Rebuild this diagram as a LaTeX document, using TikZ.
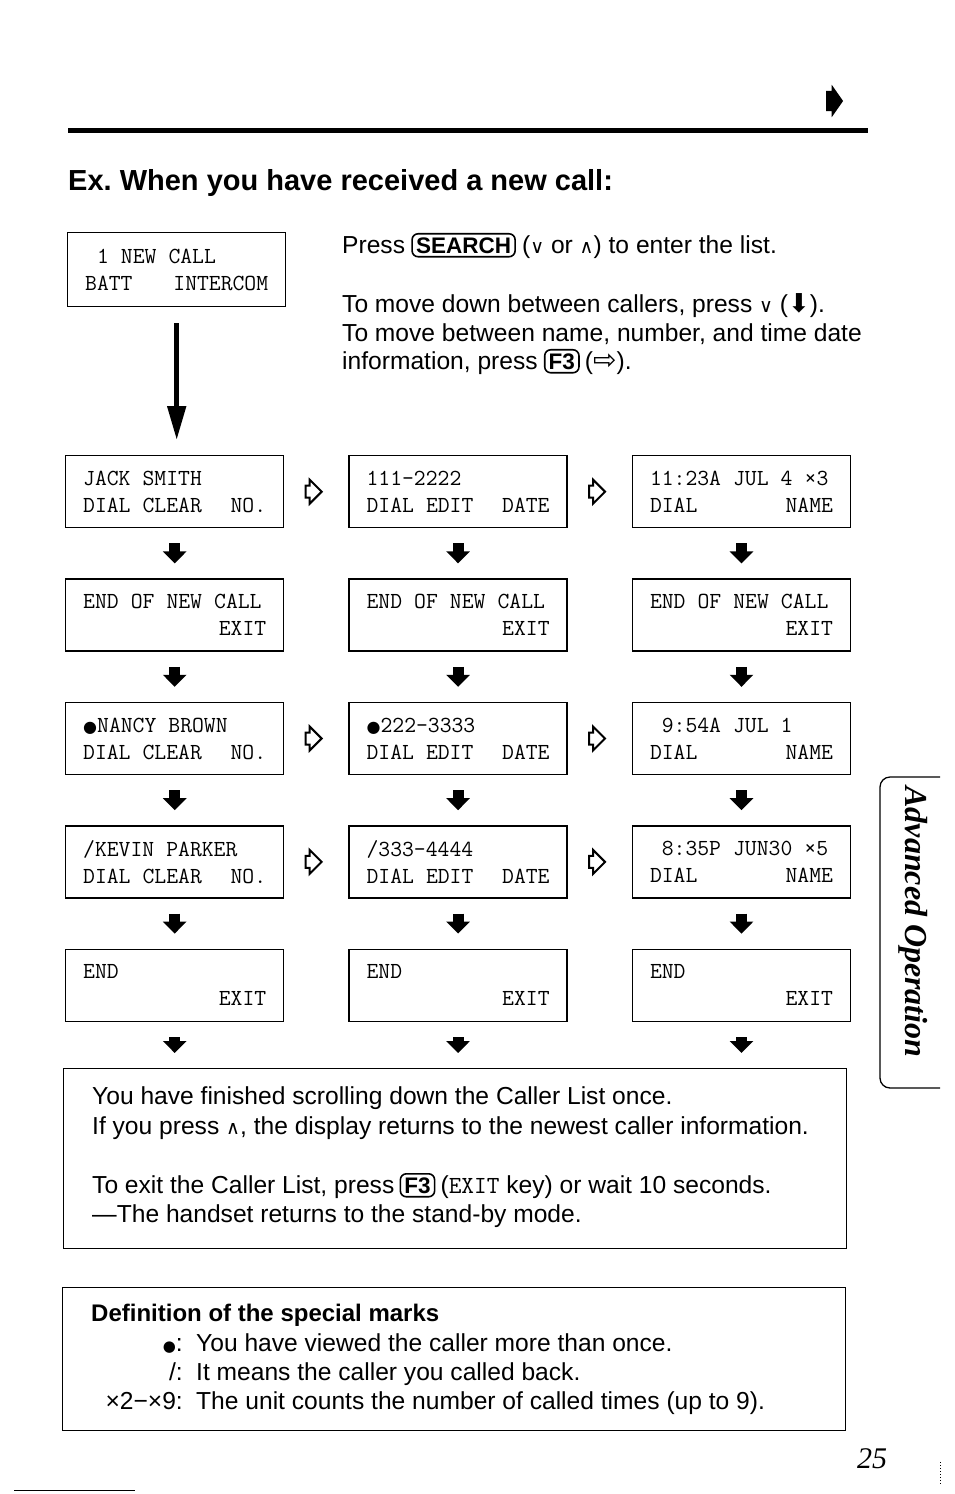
\documentclass[tikz,border=0pt]{standalone}
\usepackage{fontspec}
\setmainfont{Liberation Sans}
\newfontfamily\symfont{DejaVu Sans}
\newfontfamily\timesfont{Liberation Serif}
\usetikzlibrary{positioning,arrows.meta,shapes.arrows}

\newcommand{\downkey}{{\symfont\fontsize{19}{19}\selectfont ∨}}
\newcommand{\upkey}{{\symfont\fontsize{19}{19}\selectfont ∧}}

\tikzset{
  lcd/.style={draw, line width=1.4pt, minimum width=218pt, minimum height=72pt,
    text width=183pt, align=left, inner sep=0pt,
    font=\ttfamily\fontsize{23}{27}\selectfont,
    execute at begin node={\spaceskip=12.07pt\relax}},
  txt/.style={inner sep=0pt, anchor=base west, font=\fontsize{24.6}{29}\selectfont},
  key/.style={draw, rounded corners=6pt, line width=1.6pt, inner xsep=4pt,
    inner ysep=3.5pt, font=\bfseries\fontsize{22.5}{22.5}\selectfont},
  dnarrow/.style={line width=11pt, -{Triangle[width=23pt,length=12pt]},
    shorten <=15pt, shorten >=15pt},
  rt/.style={pos=0.41, single arrow, draw, line width=2pt, fill=white,
    inner xsep=0pt, inner ysep=5pt, minimum width=22pt, minimum height=16pt,
    single arrow head extend=6pt},
  frame/.style={draw, line width=1.4pt, anchor=north west, inner sep=0pt},
}

\begin{document}
\begin{tikzpicture}[x=1pt, y=-1pt, node distance=50pt and 64pt]
\useasboundingbox (0,0) rectangle (954,1494);

% page head
\draw[line width=5pt] (68,130) -- (868,130);
\node[single arrow, fill=black, inner xsep=0pt, inner ysep=10pt, minimum width=32pt,
  minimum height=17pt, single arrow head extend=6pt, single arrow tip angle=110] (more) at (831,101) {};
\node[txt, font=\bfseries\fontsize{29}{34}\selectfont] (title) at (68,190)
  {Ex.\ When you have received a new call:};

% first display
\node[lcd, anchor=north west, minimum height=74pt] (s) at (67,232)
  {\phantom{0}1 NEW CALL\\BATT\hfill INTERCOM};

% how to move
\node[txt] (p_1) at (342,253) {Press};
\node[key, base right=6pt of p_1] (k_1) {SEARCH};
\node[txt, base right=6pt of k_1] (p_2) {(\downkey\ or \upkey) to enter the list.};
\node[txt] (p_3) at (342,312) {To move down between callers, press \downkey\ ({\symfont\fontsize{26}{26}\selectfont ⬇}).};
\node[txt] (p_4) at (342,341) {To move between name, number, and time date};
\node[txt] (p_5) at (342,369) {information, press};
\node[key, base right=6pt of p_5] (k_2) {F3};
\node[txt, base right=5pt of k_2] (p_6) {({\symfont\fontsize{28}{28}\selectfont ⇨}).};

% name column
\node[lcd, anchor=north west] (a_1) at (65,455) {JACK SMITH\\DIAL CLEAR\hfill NO.};
\node[lcd, below=of a_1] (a_2) {END OF NEW CALL\\\mbox{}\hfill EXIT};
\node[lcd, below=of a_2] (a_3) {{\symfont\fontsize{16}{16}\selectfont ●}NANCY BROWN\\DIAL CLEAR\hfill NO.};
\node[lcd, below=of a_3] (a_4) {/KEVIN PARKER\\DIAL CLEAR\hfill NO.};
\node[lcd, below=of a_4] (a_5) {END\\\mbox{}\hfill EXIT};

% number column
\node[lcd, right=of a_1] (b_1) {111-2222\\DIAL EDIT\hfill DATE};
\node[lcd, below=of b_1] (b_2) {END OF NEW CALL\\\mbox{}\hfill EXIT};
\node[lcd, below=of b_2] (b_3) {{\symfont\fontsize{16}{16}\selectfont ●}222-3333\\DIAL EDIT\hfill DATE};
\node[lcd, below=of b_3] (b_4) {/333-4444\\DIAL EDIT\hfill DATE};
\node[lcd, below=of b_4] (b_5) {END\\\mbox{}\hfill EXIT};

% time column
\node[lcd, right=of b_1] (c_1) {11:23A JUL 4 ×3\\DIAL\hfill NAME};
\node[lcd, below=of c_1] (c_2) {END OF NEW CALL\\\mbox{}\hfill EXIT};
\node[lcd, below=of c_2] (c_3) {\phantom{0}9:54A JUL 1\\DIAL\hfill NAME};
\node[lcd, below=of c_3] (c_4) {\phantom{0}8:35P JUN30 ×5\\DIAL\hfill NAME};
\node[lcd, below=of c_4] (c_5) {END\\\mbox{}\hfill EXIT};

% end of list
\node[frame, minimum width=783pt, minimum height=180pt] (msg) at (63,1068) {};
\node[txt] (m_1) at ([shift={(29,36)}]msg.north west) {You have finished scrolling down the Caller List once.};
\node[txt] (m_2) at ([shift={(29,66)}]msg.north west) {If you press \upkey, the display returns to the newest caller information.};
\node[txt] (m_3) at ([shift={(29,125)}]msg.north west) {To exit the Caller List, press};
\node[key, base right=5pt of m_3] (k_3) {F3};
\node[txt, base right=5pt of k_3] (m_4) {({\ttfamily EXIT} key) or wait 10 seconds.};
\node[txt] (m_5) at ([shift={(29,154)}]msg.north west) {—The handset returns to the stand-by mode.};

% special marks
\node[frame, minimum width=783pt, minimum height=143pt] (defs) at (62,1287) {};
\node[txt, font=\bfseries\fontsize{24}{28}\selectfont] (d_0) at ([shift={(29,34)}]defs.north west) {Definition of the special marks};
\node[txt, anchor=base east] (d_1) at (183,1351) {{\symfont\fontsize{15}{15}\selectfont ●}:};
\node[txt] (e_1) at (196,1351) {You have viewed the caller more than once.};
\node[txt, anchor=base east] (d_2) at (183,1380) {/:};
\node[txt] (e_2) at (196,1380) {It means the caller you called back.};
\node[txt, anchor=base east] (d_3) at (183,1409) {×2−×9:};
\node[txt] (e_3) at (196,1409) {The unit counts the number of called times (up to 9).};

% arrows
\draw[line width=5pt, -{Triangle[width=18pt,length=34pt]}, shorten <=16pt, shorten >=15pt]
  (s) -- (s |- a_1.north);
\draw[dnarrow] (a_1) -- (a_2);
\draw[dnarrow] (a_2) -- (a_3);
\draw[dnarrow] (a_3) -- (a_4);
\draw[dnarrow] (a_4) -- (a_5);
\draw[dnarrow] (b_1) -- (b_2);
\draw[dnarrow] (b_2) -- (b_3);
\draw[dnarrow] (b_3) -- (b_4);
\draw[dnarrow] (b_4) -- (b_5);
\draw[dnarrow] (c_1) -- (c_2);
\draw[dnarrow] (c_2) -- (c_3);
\draw[dnarrow] (c_3) -- (c_4);
\draw[dnarrow] (c_4) -- (c_5);
\draw[dnarrow] (a_5) -- (a_5 |- msg.north);
\draw[dnarrow] (b_5) -- (b_5 |- msg.north);
\draw[dnarrow] (c_5) -- (c_5 |- msg.north);
\path (a_1) -- (b_1) node[rt] {}
      (b_1) -- (c_1) node[rt] {}
      (a_3) -- (b_3) node[rt] {}
      (b_3) -- (c_3) node[rt] {}
      (a_4) -- (b_4) node[rt] {}
      (b_4) -- (c_4) node[rt] {};

% side tab and page foot
\draw[line width=1.3pt, rounded corners=10pt] (940,777) -- (880,777) -- (880,1088) -- (940,1088);
\node[rotate=-90, font=\timesfont\bfseries\itshape\fontsize{32}{32}\selectfont] (tab) at (913,922) {Advanced Operation};
\node[anchor=base west, inner sep=0pt, font=\timesfont\itshape\fontsize{30}{30}\selectfont] (page) at (857,1468) {25};
\draw[dotted, line width=1pt] (940,1462) -- (940,1484);
\draw[line width=1pt] (14,1490) -- (135,1490);
\end{tikzpicture}
\end{document}
